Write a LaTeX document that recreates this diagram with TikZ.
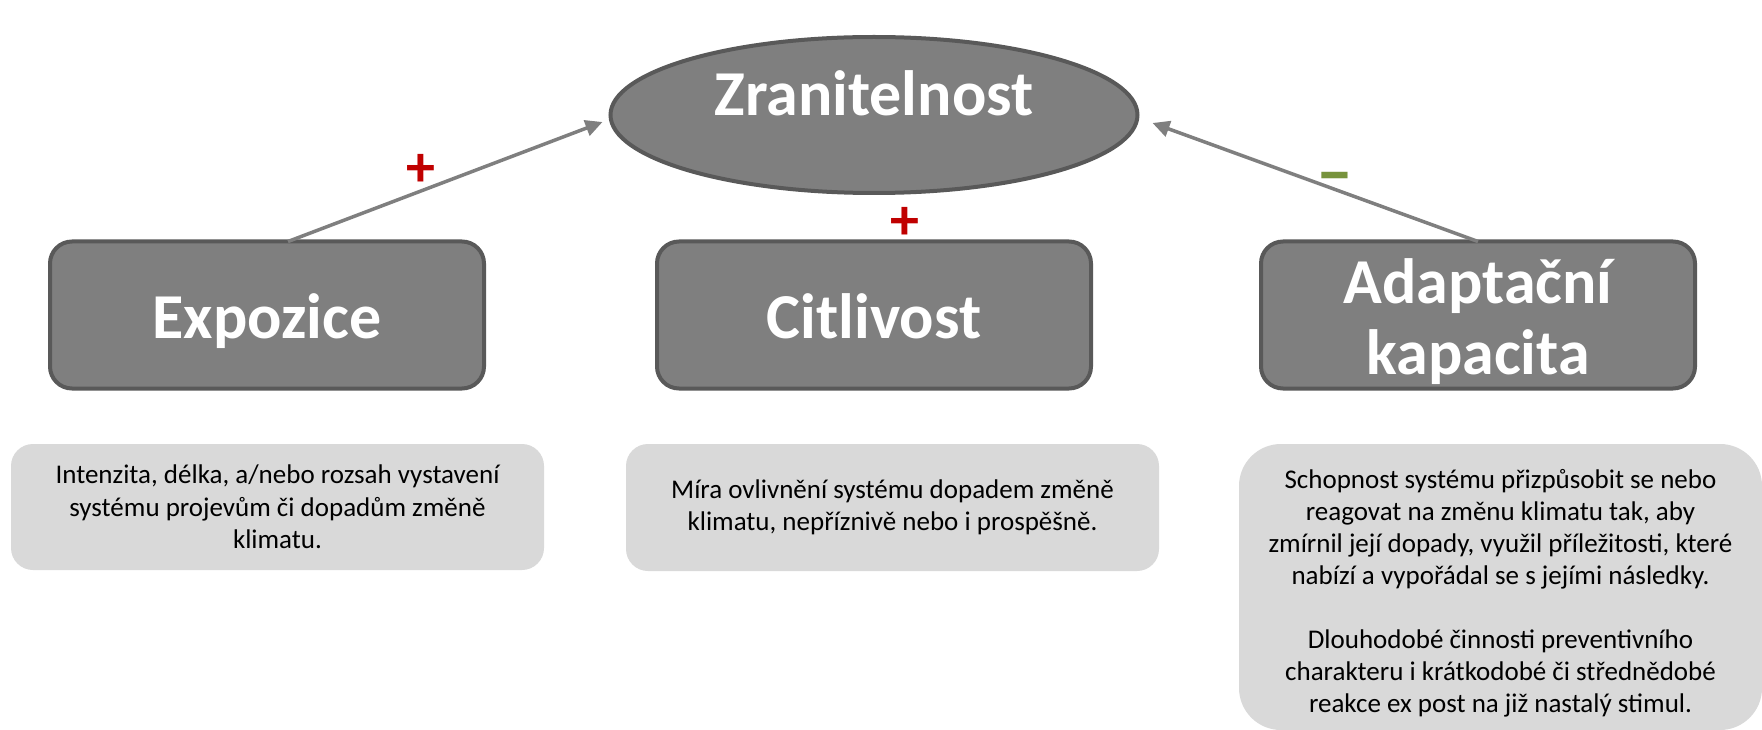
\documentclass[tikz,border=0pt]{standalone}
\usepackage{fontspec}
\setmainfont{Carlito}
\usetikzlibrary{arrows.meta,shapes.geometric}
\definecolor{boxgray}{HTML}{7F7F7F}
\definecolor{boxedge}{HTML}{595959}
\definecolor{lightbox}{HTML}{D9D9D9}
\definecolor{plusred}{HTML}{C00000}
\definecolor{minusgreen}{HTML}{77933C}
\tikzset{
  headfont/.style={font=\fontsize{64}{71}\selectfont\bfseries},
  head/.style={draw=boxedge, line width=4pt, fill=boxgray, text=white, headfont,
    rounded corners=22pt, minimum width=434pt, minimum height=147pt,
    inner sep=0pt, outer sep=0pt, align=center},
  desc/.style={fill=lightbox, rounded corners=22pt, inner sep=0pt, outer sep=0pt,
    align=center, font=\fontsize{27}{32.5}\selectfont},
  desctext/.style={inner sep=0pt, align=center, font=\fontsize{27}{32}\selectfont},
  arr/.style={draw=boxgray, line width=3.5pt, -{Triangle[length=17pt,width=16pt]}},
  sign/.style={font=\fontsize{58}{58}\selectfont\bfseries, inner sep=0pt},
}
\begin{document}
\begin{tikzpicture}[x=1pt,y=-1pt]
\fill[white] (0,0) rectangle (1762,730);
\useasboundingbox (0,0) rectangle (1762,730);

\node[ellipse, draw=boxedge, line width=4pt, fill=boxgray, minimum width=527pt,
  minimum height=156pt, inner sep=0pt, outer sep=0pt, text=white, headfont,
  text height=2pt, text depth=0pt] (zr) at (874,115) {Zranitelnost};

\node[head, text height=46pt, text depth=0pt] (expo) at (267,315) {Expozice};
\node[head, text height=46pt, text depth=0pt] (cit) at (874,315) {Citlivost};
\node[head, text height=130pt, text depth=12pt] (adapt) at (1478,315) {Adaptační\\kapacita};

\draw[arr] ([xshift=21pt]expo.north) -- ([xshift=-8pt,yshift=-7pt]zr.west);
\draw[arr] (adapt.north) -- ([xshift=15pt,yshift=-8pt]zr.east);

\node[sign, text=plusred] (p1) at (421,170) {+};
\node[sign, text=plusred] (p2) at (905,223) {+};
\node[sign, text=minusgreen, font=\fontsize{74}{74}\selectfont\bfseries] (m1) at (1335,184) {–};

\node[desc, minimum width=533pt, minimum height=126pt] (d1) at (277.5,507)
  {Intenzita, délka, a/nebo rozsah vystavení\\systému projevům či dopadům změně\\klimatu.};
\node[desc, minimum width=533pt, minimum height=127pt] (d2) at (892.5,507.5)
  {Míra ovlivnění systému dopadem změně\\klimatu, nepříznivě nebo i prospěšně.};
\node[desc, rounded corners=42pt, minimum width=523pt, minimum height=286pt] (d3) at (1500.5,587) {};
\node[desctext] (d3t) at ([yshift=-6pt]d3.center)
  {Schopnost systému přizpůsobit se nebo\\reagovat na změnu klimatu tak, aby\\zmírnil její dopady, využil příležitosti, které\\nabízí a vypořádal se s jejími následky.\\[32pt]Dlouhodobé činnosti preventivního\\charakteru i krátkodobé či střednědobé\\reakce ex post na již nastalý stimul.};
\end{tikzpicture}
\end{document}
